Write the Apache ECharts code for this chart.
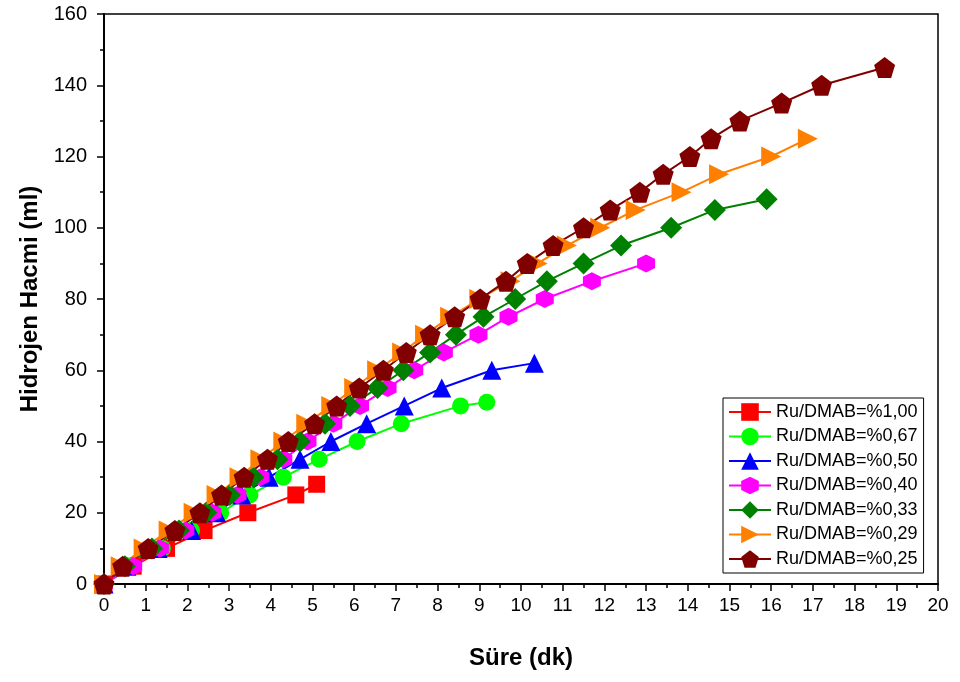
<!DOCTYPE html>
<html>
<head>
<meta charset="utf-8">
<script src="https://cdn.jsdelivr.net/npm/echarts@6/dist/echarts.min.js"></script>
<style>
  html, body { margin: 0; padding: 0; background: #fff; }
  #main { width: 960px; height: 682px; }
</style>
</head>
<body>
<div id="main"></div>
<script>
var myChart = echarts.init(document.getElementById('main'));

// series names
var names = ['Ru/DMAB=%1,00', 'Ru/DMAB=%0,67', 'Ru/DMAB=%0,50', 'Ru/DMAB=%0,40', 'Ru/DMAB=%0,33', 'Ru/DMAB=%0,29', 'Ru/DMAB=%0,25'];

// time (dk) and volume (ml)
var t100 = [0, 0.7, 1.5, 2.4, 3.45, 4.6, 5.1];
var v100 = [0, 5, 10, 15, 20, 25, 28];

var t067 = [0, 0.65, 1.4, 2.1, 2.8, 3.5, 4.3, 5.16, 6.07, 7.13, 8.55, 9.18];
var v067 = [0, 5, 10, 15, 20, 25, 30, 35, 40, 45, 50, 51];

var t050 = [0, 0.55, 1.3, 2.1, 2.7, 3.3, 3.96, 4.7, 5.44, 6.3, 7.2, 8.1, 9.3, 10.32];
var v050 = [0, 5, 10, 15, 20, 25, 30, 35, 40, 45, 50, 55, 60, 62];

var t040 = [0, 0.7, 1.34, 1.95, 2.6, 3.2, 3.75, 4.3, 4.88, 5.5, 6.14, 6.8, 7.44, 8.15, 8.98, 9.7, 10.57, 11.7, 13.0];
var v040 = [0, 5, 10, 15, 20, 25, 30, 35, 40, 45, 50, 55, 60, 65, 70, 75, 80, 85, 90];

var t033 = [0, 0.5, 1.15, 1.8, 2.45, 3.02, 3.58, 4.16, 4.7, 5.3, 5.9, 6.56, 7.18, 7.82, 8.44, 9.1, 9.86, 10.62, 11.5, 12.4, 13.6, 14.65, 15.89];
var v033 = [0, 5, 10, 15, 20, 25, 30, 35, 40, 45, 50, 55, 60, 65, 70, 75, 80, 85, 90, 95, 100, 105, 108];

var t029 = [0, 0.4, 0.95, 1.55, 2.15, 2.7, 3.25, 3.75, 4.3, 4.85, 5.45, 6.0, 6.55, 7.15, 7.7, 8.3, 9.0, 9.75, 10.4, 11.1, 11.9, 12.75, 13.85, 14.75, 16.0, 16.88];
var v029 = [0, 5, 10, 15, 20, 25, 30, 35, 40, 45, 50, 55, 60, 65, 70, 75, 80, 85, 90, 95, 100, 105, 110, 115, 120, 125];

var t025 = [0, 0.45, 1.06, 1.7, 2.3, 2.82, 3.36, 3.92, 4.42, 5.05, 5.58, 6.12, 6.7, 7.25, 7.82, 8.41, 9.02, 9.64, 10.15, 10.77, 11.5, 12.14, 12.85, 13.41, 14.05, 14.56, 15.25, 16.25, 17.21, 18.72];
var v025 = [0, 5, 10, 15, 20, 25, 30, 35, 40, 45, 50, 55, 60, 65, 70, 75, 80, 85, 90, 95, 100, 105, 110, 115, 120, 125, 130, 135, 140, 145];

var times = [t100, t067, t050, t040, t033, t029, t025];
var vols = [v100, v067, v050, v040, v033, v029, v025];

var colors = ['#ff0000', '#00ff00', '#0000ff', '#ff00ff', '#008000', '#ff8000', '#800000'];

var hexagon = 'path://M0,-10 L8.66,-5 L8.66,5 L0,10 L-8.66,5 L-8.66,-5 Z';
var pentagon = 'path://M0,-10 L9.51,-3.09 L5.88,8.09 L-5.88,8.09 L-9.51,-3.09 Z';
var triRight = 'path://M0,0 L10,5 L0,10 Z';
var symbols = ['rect', 'circle', 'triangle', hexagon, 'diamond', triRight, pentagon];
var sizes = [17, 17, 19, 18, 22, 20, 21];

var series = []
names.forEach(function (n, i) {
    var pts = []
    times[i].forEach(function (t, k) {
        pts.push([t, vols[i][k]])
    })
    series.push({
        name: n,
        type: 'line',
        data: pts,
        symbol: symbols[i],
        symbolSize: sizes[i],
        showAllSymbol: true,
        color: colors[i],
        lineStyle: { width: 2, color: colors[i] },
        itemStyle: { color: colors[i] },
        emphasis: { disabled: true },
        animation: false
    })
})

var option = {
    animation: false,
    grid: {
        left: 104, right: 22, top: 14, bottom: 98,
        show: true, borderColor: '#000', borderWidth: 1.5, backgroundColor: 'transparent'
    },
    legend: {
        orient: 'vertical',
        left: 723,
        top: 398,
        width: 204,
        data: names,
        borderColor: '#000',
        borderWidth: 1,
        padding: [5, 6, 5, 5],
        itemGap: 6.5,
        itemWidth: 42,
        itemHeight: 22,
        textStyle: { color: '#000', fontFamily: 'Liberation Sans, Arial, sans-serif', fontSize: 18, lineHeight: 18 }
    },
    xAxis: {
        type: 'value',
        min: 0,
        max: 20,
        interval: 1,
        name: 'Süre (dk)',
        nameLocation: 'middle',
        nameGap: 62,
        nameTextStyle: { color: '#000', fontFamily: 'Liberation Sans, Arial, sans-serif', fontSize: 24, fontWeight: 'bold' },
        axisLine: { onZero: false, lineStyle: { color: '#000', width: 2 } },
        axisTick: { show: true, inside: false, length: 7, lineStyle: { color: '#000', width: 1.5 } },
        minorTick: { show: true, splitNumber: 2, length: 4, lineStyle: { color: '#000', width: 1.5 } },
        splitLine: { show: false },
        axisLabel: { color: '#000', fontFamily: 'Liberation Sans Narrow, Arial Narrow, Liberation Sans, sans-serif', fontSize: 19, margin: 12 }
    },
    yAxis: {
        type: 'value',
        min: 0,
        max: 160,
        interval: 20,
        name: 'Hidrojen Hacmi (ml)',
        nameLocation: 'middle',
        nameGap: 60,
        nameTextStyle: { color: '#000', fontFamily: 'Liberation Sans, Arial, sans-serif', fontSize: 24, fontWeight: 'bold' },
        axisLine: { show: true, onZero: false, lineStyle: { color: '#000', width: 2 } },
        axisTick: { show: true, inside: false, length: 7, lineStyle: { color: '#000', width: 1.5 } },
        minorTick: { show: true, splitNumber: 2, length: 4, lineStyle: { color: '#000', width: 1.5 } },
        splitLine: { show: false },
        axisLabel: { color: '#000', fontFamily: 'Liberation Sans, Arial, sans-serif', fontSize: 20, margin: 17 }
    },
    series: series
};

myChart.setOption(option);
</script>
</body>
</html>
